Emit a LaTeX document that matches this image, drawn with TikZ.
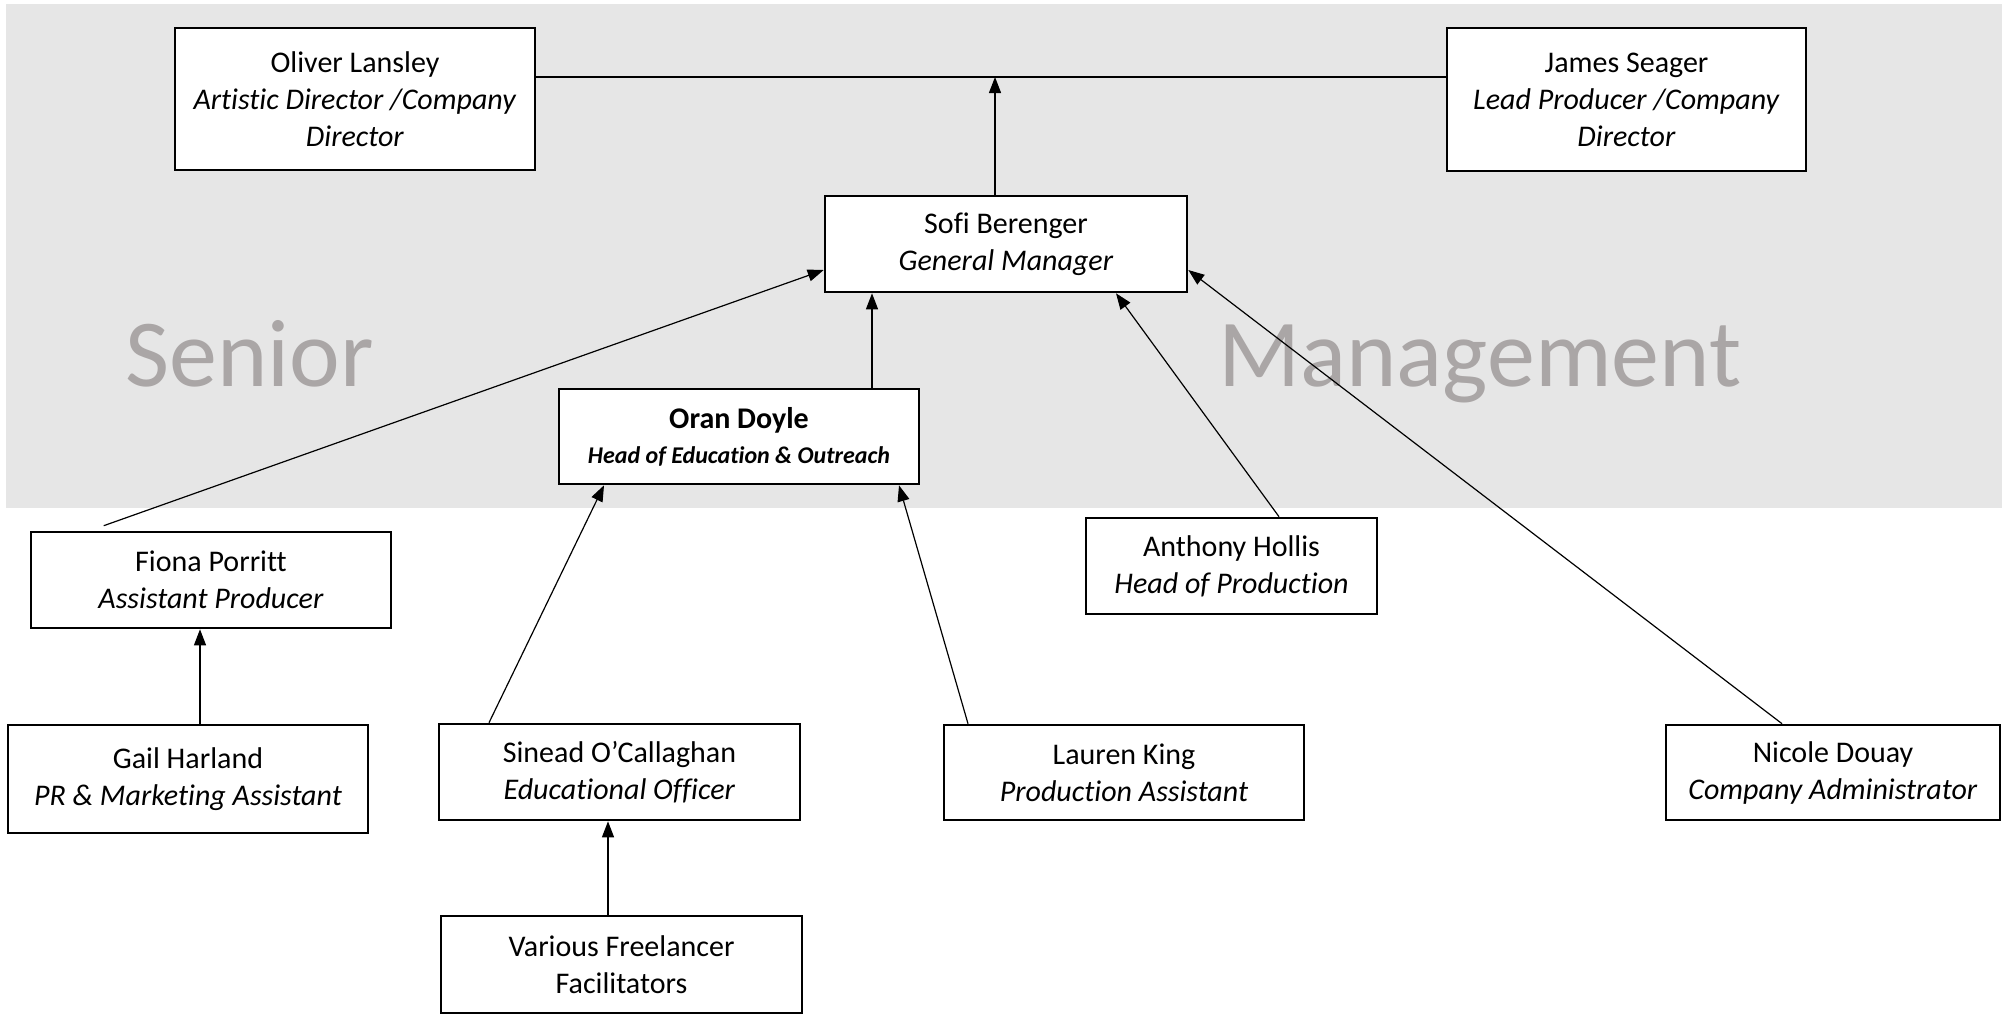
\documentclass[tikz,border=0pt]{standalone}
\usepackage{fontspec}
\setmainfont{Carlito}[RawFeature=-liga]
\usetikzlibrary{arrows.meta,calc}
\definecolor{bggrey}{RGB}{230,230,230}
\definecolor{biggrey}{RGB}{170,166,166}
\tikzset{
  box/.style={draw, line width=1.3pt, fill=white, align=center, inner sep=0pt,
    font=\fontsize{15}{18.5}\selectfont},
  link/.style={line width=0.6pt},
  arr/.style={line width=0.6pt, -{Triangle[length=8pt,width=6pt]}},
  bigword/.style={text=biggrey, font=\fontsize{48}{56}\selectfont, anchor=base west, inner sep=0pt}
}
\begin{document}
\begin{tikzpicture}[x=0.5pt,y=-0.5pt]
\useasboundingbox (0,0) rectangle (2006,1013);
\fill[bggrey] (6,4) rectangle (2002,508);
\node[bigword] (senior) at (125,386) {Senior};
\node[bigword] (mgmt) at (1218,386) {Management};

\node[box, minimum width=180pt, minimum height=71pt] (oliver) at (355,99)
  {Oliver Lansley\\\textit{Artistic Director /Company}\\\textit{Director}};
\node[box, minimum width=179.5pt, minimum height=71.5pt] (james) at (1626.5,99.5)
  {James Seager\\\textit{Lead Producer /Company}\\\textit{Director}};
\node[box, minimum width=181pt, minimum height=48pt] (sofi) at (1006,244)
  {Sofi Berenger\\\textit{General Manager}};
\node[box, minimum width=180pt, minimum height=47.5pt] (oran) at (739,436.5)
  {\textbf{Oran Doyle}\\[-1pt]{\fontsize{12}{15}\selectfont\textbf{\textit{Head of Education \& Outreach}}}};
\node[box, minimum width=180pt, minimum height=48pt] (fiona) at (211,580)
  {Fiona Porritt\\\textit{Assistant Producer}};
\node[box, minimum width=145.5pt, minimum height=48pt] (anthony) at (1231.5,566)
  {Anthony Hollis\\\textit{Head of Production}};
\node[box, minimum width=180pt, minimum height=54pt] (gail) at (188,779)
  {Gail Harland\\\textit{PR \& Marketing Assistant}};
\node[box, minimum width=180.5pt, minimum height=48pt] (sinead) at (619.5,772)
  {Sinead O’Callaghan\\\textit{Educational Officer}};
\node[box, minimum width=180pt, minimum height=47.5pt] (lauren) at (1124,772.5)
  {Lauren King\\\textit{Production Assistant}};
\node[box, minimum width=167pt, minimum height=47.5pt] (nicole) at (1833,772.5)
  {Nicole Douay\\\textit{Company Administrator}};
\node[box, minimum width=180.5pt, minimum height=48.5pt] (various) at (621.5,964.5)
  {Various Freelancer\\Facilitators};

% top connector line
\coordinate (jl) at ([yshift=11pt]oliver.east);
\draw[link] (jl) -- (jl -| james.west);
\coordinate (sofitop) at ([xshift=-5.5pt]sofi.north);
\draw[arr] (sofitop) -- (sofitop |- jl);

% to Sofi
\coordinate (orantop) at ([xshift=66.5pt]oran.north);
\draw[arr] (orantop) -- (orantop |- sofi.south);
\draw[arr] ([xshift=37pt,yshift=2.5pt]fiona.north west) -- ([yshift=-13pt]sofi.west);
\draw[arr] ([xshift=23.75pt]anthony.north) -- ([xshift=55pt]sofi.south);
\draw[arr] ([xshift=-25.5pt]nicole.north) -- ([yshift=-13pt]sofi.east);

% to Oran
\draw[arr] ([xshift=-65.25pt]sinead.north) -- ([xshift=-67.5pt]oran.south);
\draw[arr] ([xshift=-78pt]lauren.north) -- ([xshift=80pt]oran.south);

% to Fiona / Sinead
\coordinate (gailtop) at ([xshift=6pt]gail.north);
\draw[arr] (gailtop) -- (gailtop |- fiona.south);
\coordinate (vartop) at ([xshift=-6.75pt]various.north);
\draw[arr] (vartop) -- (vartop |- sinead.south);
\end{tikzpicture}
\end{document}
